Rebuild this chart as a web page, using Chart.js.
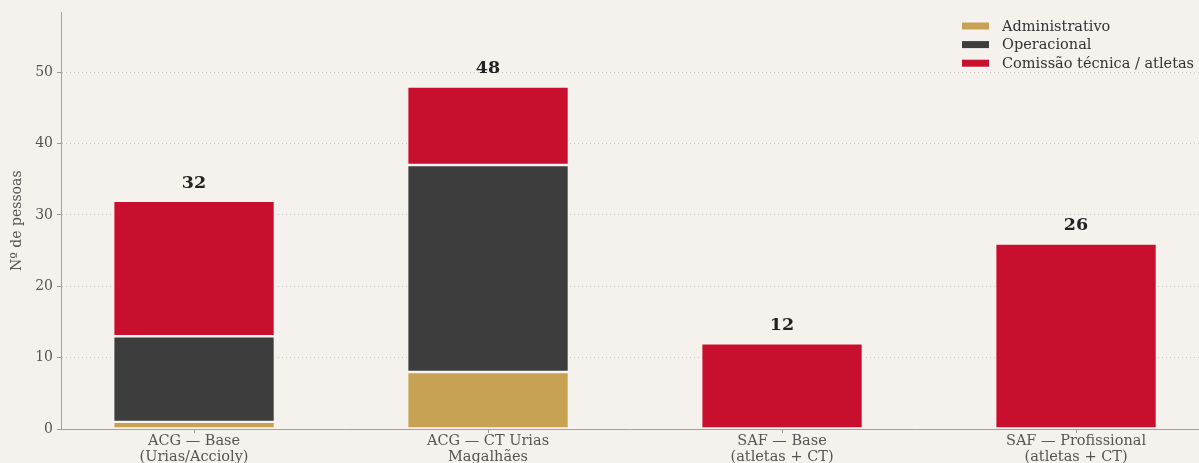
<!DOCTYPE html>
<html>
<head>
<meta charset="utf-8">
<script src="https://cdn.jsdelivr.net/npm/chart.js@4/dist/chart.umd.min.js"></script>
<style>
  html, body { margin: 0; padding: 0; background: #f5f2ed; overflow: hidden; }
  #wrap { width: 1199px; height: 463px; }
</style>
</head>
<body>
<div id="wrap"><canvas id="myChart" width="1199" height="463"></canvas></div>
<script>
var categories = [
    ['ACG — Base', '(Urias/Accioly)'],
    ['ACG — CT Urias', 'Magalhães'],
    ['SAF — Base', '(atletas + CT)'],
    ['SAF — Profissional', '(atletas + CT)']
];
var administrativo = [1, 8, 0, 0];
var operacional = [12, 29, 0, 0];
var comissao = [19, 11, 12, 26];
var yTicks = [0, 10, 20, 30, 40, 50];

var seriesNames = ['Administrativo', 'Operacional', 'Comissão técnica / atletas'];
var seriesColors = ['#c6a252', '#3d3d3d', '#c8102e'];
var bg = '#f5f2ed';
var serif = "'DejaVu Serif', 'Liberation Serif', serif";

function points(arr) {
    return arr.map(function (v, i) { return { x: i, y: v }; });
}

var totalsPlugin = {
    id: 'totals',
    afterDatasetsDraw: function (chart) {
        var ctx = chart.ctx;
        var xs = chart.scales.x, ys = chart.scales.y;
        ctx.save();
        ctx.font = 'bold 17.5px ' + serif;
        ctx.fillStyle = '#222';
        ctx.textAlign = 'center';
        ctx.textBaseline = 'bottom';
        for (var i = 0; i < categories.length; i++) {
            var total = administrativo[i] + operacional[i] + comissao[i];
            ctx.fillText(String(total), xs.getPixelForValue(i), ys.getPixelForValue(total) - 9);
        }
        ctx.restore();
    }
};

var legendPlugin = {
    id: 'sideLegend',
    afterDraw: function (chart) {
        var ctx = chart.ctx;
        ctx.save();
        ctx.font = '14.5px ' + serif;
        ctx.textBaseline = 'middle';
        ctx.textAlign = 'left';
        chart.data.datasets.forEach(function (ds, i) {
            var y = 26 + i * 18.6;
            ctx.fillStyle = ds.backgroundColor;
            ctx.fillRect(962, y - 3.5, 27, 7);
            ctx.fillStyle = '#333';
            ctx.fillText(ds.label, 1002, y + 1);
        });
        ctx.restore();
    }
};

var datasets = [administrativo, operacional, comissao].map(function (arr, k) {
    return {
        label: seriesNames[k],
        data: points(arr),
        backgroundColor: seriesColors[k],
        borderColor: '#f7f4ef',
        borderWidth: function (c) { return c.raw && c.raw.y ? 1.2 : 0; },
        borderSkipped: false,
        barPercentage: 0.55,
        categoryPercentage: 1.0
    };
});

var ctx = document.getElementById('myChart').getContext('2d');
var myChart = new Chart(ctx, {
    type: 'bar',
    data: { datasets: datasets },
    options: {
        responsive: false,
        animation: false,
        layout: { padding: { top: 12, left: 0, right: 0, bottom: 0 } },
        plugins: {
            legend: { display: false },
            tooltip: { enabled: false }
        },
        scales: {
            x: {
                type: 'linear',
                stacked: true,
                bounds: 'data',
                offset: false,
                min: -0.4525,
                max: -0.4525 + 1138 / 294,
                afterBuildTicks: function (scale) {
                    scale.ticks = categories.map(function (c, i) { return { value: i }; });
                },
                afterFit: function (scale) { scale.height = 34; },
                grid: {
                    offset: false,
                    drawOnChartArea: false,
                    drawTicks: true,
                    tickLength: 4,
                    tickColor: '#999'
                },
                border: { display: true, color: '#a0a0a0', width: 1 },
                ticks: {
                    autoSkip: false,
                    maxRotation: 0,
                    padding: 1,
                    color: '#555',
                    font: { family: serif, size: 14.5, lineHeight: 1.05 },
                    callback: function (v) { return categories[v]; }
                }
            },
            y: {
                stacked: true,
                bounds: 'data',
                min: 0,
                max: 58.4,
                afterBuildTicks: function (scale) {
                    scale.ticks = yTicks.map(function (v) { return { value: v }; });
                },
                afterFit: function (scale) { scale.width = 61; },
                grid: {
                    color: function (c) { return c.tick && c.tick.value === 0 ? 'rgba(0,0,0,0)' : '#cbc6bf'; },
                    lineWidth: 1,
                    drawTicks: true,
                    tickLength: 4,
                    tickColor: '#999',
                    tickBorderDash: [1, 0]
                },
                border: { display: true, color: '#a0a0a0', width: 1, dash: [1, 3] },
                title: {
                    display: true,
                    text: 'Nº de pessoas',
                    color: '#555',
                    font: { family: serif, size: 14 },
                    padding: { top: 9, bottom: 4 }
                },
                ticks: {
                    color: '#555',
                    padding: 4,
                    font: { family: serif, size: 14 }
                }
            }
        }
    },
    plugins: [totalsPlugin, legendPlugin, {
        id: 'bgFill',
        beforeDraw: function (chart) {
            var c = chart.ctx;
            c.save();
            c.fillStyle = bg;
            c.fillRect(0, 0, chart.width, chart.height);
            c.restore();
        }
    }]
});
</script>
</body>
</html>
